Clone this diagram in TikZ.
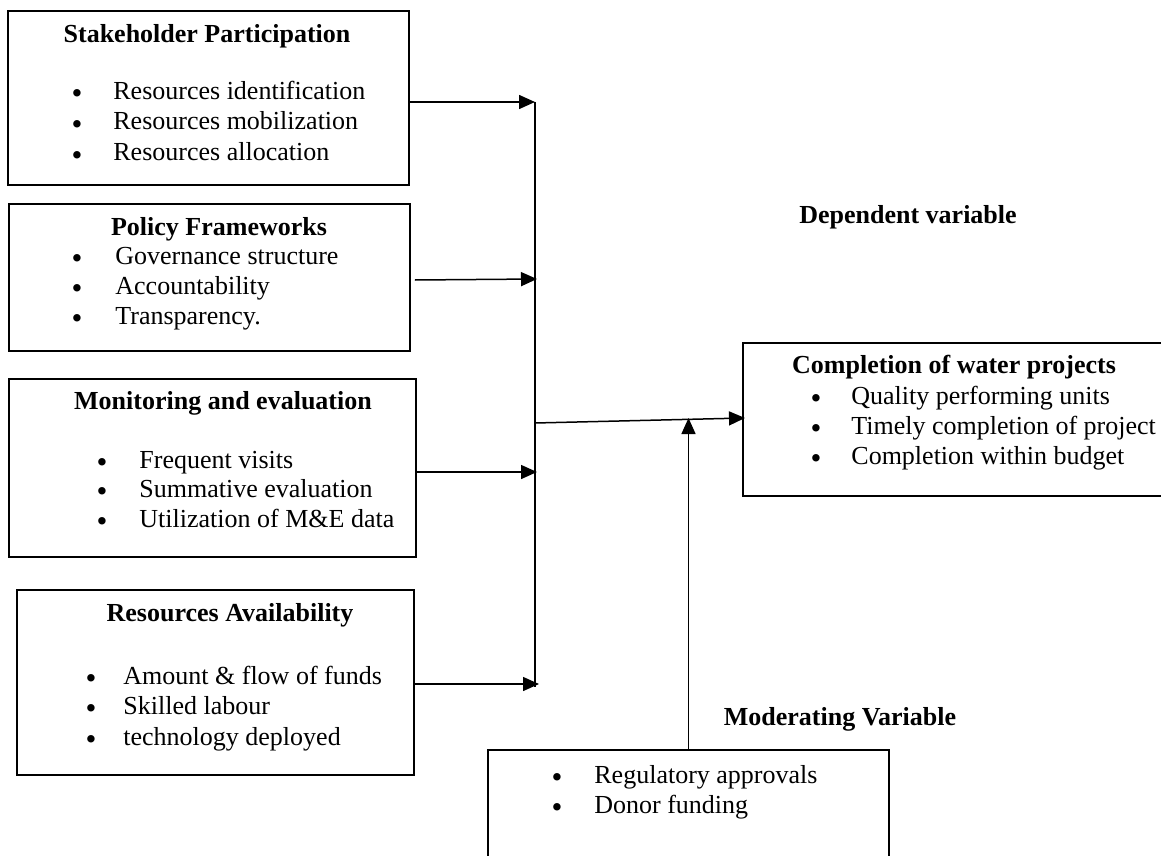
\documentclass[tikz,border=0pt]{standalone}
\usepackage{fontspec}
\setmainfont{Liberation Serif}
\usetikzlibrary{arrows.meta, fit}

\begin{document}
\begin{tikzpicture}[x=0.5pt,y=-0.5pt,font=\fontsize{13}{16}\selectfont]
	\tikzset{box/.style={draw=black,line width=0.75pt,inner sep=0pt},
		title/.style={font=\fontsize{13}{16}\selectfont\bfseries,anchor=base,inner sep=0pt},
		dot/.style={font=\fontsize{15.5}{15.5}\selectfont,inner sep=0pt,anchor=base,yshift=-5.5pt},
		item/.style={anchor=base west,inner sep=0pt},
		arr/.style={line width=0.75pt,-{Triangle[length=8pt,width=7pt]}}}
	\useasboundingbox (0,0) rectangle (1161,856);
	% boxes
	\node[box, fit={(8,11) (409,185)}] (sp) {};
	\node[box, fit={(9,204) (410,351)}] (pf) {};
	\node[box, fit={(9,379) (416,557)}] (me) {};
	\node[box, fit={(17,590) (414,775)}] (ra) {};
	\node[box, fit={(743,343) (1163,496)}] (cw) {};
	\node[box, fit={(488,750) (889,860)}] (mv) {};
	% stakeholder participation
	\node[title] (spt) at (207,43) {Stakeholder Participation};
	\node[dot] (spd1) at (77,93) {\textbullet};
	\node[dot] (spd2) at (77,123) {\textbullet};
	\node[dot] (spd3) at (77,154) {\textbullet};
	\node[item] (spi1) at (113,100) {Resources identification};
	\node[item] (spi2) at (113,130) {Resources mobilization};
	\node[item] (spi3) at (113,161) {Resources allocation};
	% policy frameworks
	\node[title] (pft) at (219,235) {Policy Frameworks};
	\node[dot] (pfd1) at (77,257) {\textbullet};
	\node[dot] (pfd2) at (77,287) {\textbullet};
	\node[dot] (pfd3) at (77,317) {\textbullet};
	\node[item] (pfi1) at (115,264) {Governance structure};
	\node[item] (pfi2) at (115,294) {Accountability};
	\node[item] (pfi3) at (115,324) {Transparency.};
	% monitoring and evaluation
	\node[title] (met) at (223,409) {Monitoring and evaluation};
	\node[dot] (med1) at (102,461) {\textbullet};
	\node[dot] (med2) at (102,490) {\textbullet};
	\node[dot] (med3) at (102,520) {\textbullet};
	\node[item] (mei1) at (139,468) {Frequent visits};
	\node[item] (mei2) at (139,497) {Summative evaluation};
	\node[item] (mei3) at (139,527) {Utilization of M\&E data};
	% resources availability
	\node[title] (rat) at (230,621) {Resources Availability};
	\node[dot] (rad1) at (91,677) {\textbullet};
	\node[dot] (rad2) at (91,707) {\textbullet};
	\node[dot] (rad3) at (91,738) {\textbullet};
	\node[item] (rai1) at (123,684) {Amount \& flow of funds};
	\node[item] (rai2) at (123,714) {Skilled labour};
	\node[item] (rai3) at (123,745) {technology deployed};
	% completion of water projects
	\node[title] (cwt) at (954,373) {Completion of water projects};
	\node[dot] (cwd1) at (816,397) {\textbullet};
	\node[dot] (cwd2) at (816,427) {\textbullet};
	\node[dot] (cwd3) at (816,457) {\textbullet};
	\node[item] (cwi1) at (851,404) {Quality performing units};
	\node[item] (cwi2) at (851,434) {Timely completion of project};
	\node[item] (cwi3) at (851,464) {Completion within budget};
	% moderating
	\node[dot] (mvd1) at (557,776) {\textbullet};
	\node[dot] (mvd2) at (557,806) {\textbullet};
	\node[item] (mvi1) at (594,783) {Regulatory approvals};
	\node[item] (mvi2) at (594,813) {Donor funding};
	% headings
	\node[title] (dep) at (908,223) {Dependent variable};
	\node[title] (mod) at (840,725) {Moderating Variable};
	% connectors
	\coordinate (t1) at (535,102);
	\coordinate (t2) at (537,279);
	\coordinate (t3) at (537,472);
	\coordinate (t4) at (539,684);
	\coordinate (tb) at (535,687);
	\coordinate (m) at (535,423);
	\coordinate (t5) at (745,418);
	\draw[line width=0.75pt] (t1) -- (tb);
	\draw[arr] (sp.east |- t1) -- (t1);
	\draw[arr] ([xshift=2pt]pf.east |- 0,280) -- (t2);
	\draw[arr] (me.east |- t3) -- (t3);
	\draw[arr] (ra.east |- t4) -- (t4);
	\draw[arr] (m) -- (t5);
	\draw[arr] (mv.north) -- (mv.north |- t5);
\end{tikzpicture}
\end{document}
